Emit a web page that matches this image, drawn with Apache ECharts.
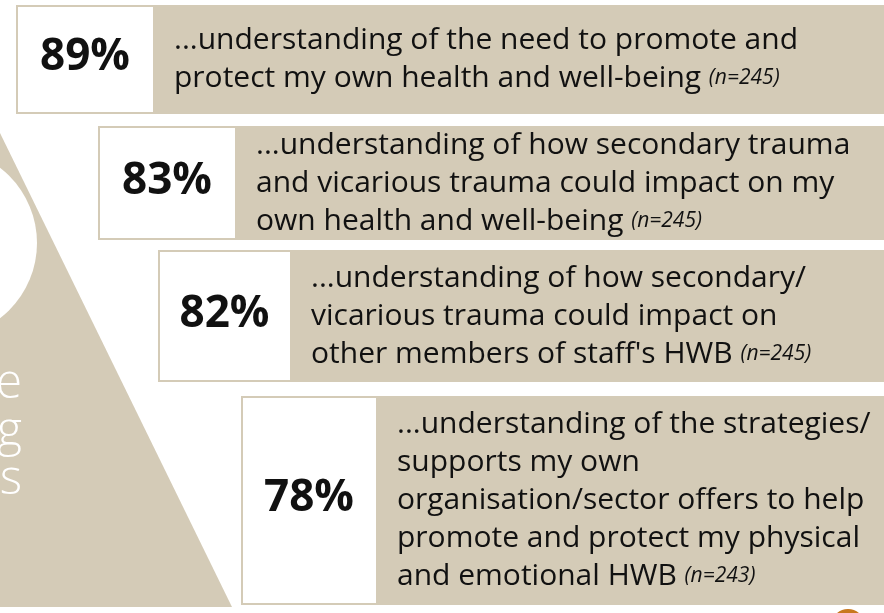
<!DOCTYPE html>
<html>
<head>
<meta charset="utf-8">
<style>
  html, body { margin: 0; padding: 0; background: #fff; }
  #main { width: 884px; height: 613px; }
</style>
<script src="https://cdn.jsdelivr.net/npm/echarts@6/dist/echarts.min.js"></script>
</head>
<body>
<div id="main"></div>
<script>
const percents = [89, 83, 82, 78];
const sampleSizes = [245, 245, 245, 243];
const statements = [
  ["...understanding of the need to promote and", "protect my own health and well-being"],
  ["...understanding of how secondary trauma", "and vicarious trauma could impact on my", "own health and well-being"],
  ["...understanding of how secondary/", "vicarious trauma could impact on", "other members of staff's HWB"],
  ["...understanding of the strategies/", "supports my own", "organisation/sector offers to help", "promote and protect my physical", "and emotional HWB"]
];
const sideWords = ["Knowledge", "Understanding", "Skills"];

// layout of each row, in pixel units of the hidden axes
const rowTop = [5, 126, 250, 396];
const rowBottom = [114, 240, 382, 605];
const rowLeft = [16, 98, 158, 241];
const rowSplit = [154, 236, 291, 377];

const W = 884, H = 613;
const BEIGE = "#d4cbb7";
const FONT = '"Open Sans", "Noto Sans", sans-serif';

function renderRow(params, api) {
  const i = api.value(0);
  const tl = api.coord([rowLeft[i], rowTop[i]]);
  const br = api.coord([W, rowBottom[i]]);
  const sp = api.coord([rowSplit[i], rowBottom[i]]);
  const h = br[1] - tl[1];
  const cy = tl[1] + h / 2;
  const lines = statements[i].slice();
  lines[lines.length - 1] += " {n|(n=" + sampleSizes[i] + ")}";
  return {
    type: "group",
    children: [
      {
        type: "rect",
        shape: { x: tl[0], y: tl[1], width: br[0] - tl[0], height: h },
        style: { fill: BEIGE },
      },
      {
        type: "rect",
        shape: { x: tl[0] + 2, y: tl[1] + 2, width: sp[0] - tl[0] - 3, height: h - 4 },
        style: { fill: "#fff" },
      },
      {
        type: "text",
        style: {
          text: api.value(1) + "%",
          x: (tl[0] + sp[0]) / 2,
          y: cy - 2,
          align: "center",
          verticalAlign: "middle",
          fontFamily: FONT,
          fontWeight: "bold",
          fontSize: 44,
          fill: "#111",
        },
      },
      {
        type: "text",
        style: {
          text: lines.join("\n"),
          x: sp[0] + 20,
          y: cy,
          align: "left",
          verticalAlign: "middle",
          fontFamily: FONT,
          fontSize: 30,
          lineHeight: 38,
          fill: "#111",
          rich: {
            n: { fontFamily: FONT, fontStyle: "italic", fontSize: 21, lineHeight: 38, fill: "#111" },
          },
        },
      },
    ],
  };
}

const chart = echarts.init(document.getElementById("main"));
chart.setOption({
  animation: false,
  grid: { left: 0, right: 0, top: 0, bottom: 0 },
  xAxis: { type: "value", min: 0, max: W, show: false },
  yAxis: { type: "value", min: 0, max: H, inverse: true, show: false },
  graphic: [
    {
      type: "polygon",
      z: -10,
      shape: { points: [[0, 133], [232, 607], [0, 607]] },
      style: { fill: BEIGE },
    },
    {
      type: "circle",
      z: -9,
      shape: { cx: -58, cy: 243, r: 95 },
      style: { fill: "#fff" },
    },
    {
      type: "text",
      z: -8,
      style: {
        text: sideWords.join("\n"),
        x: 22,
        y: 432,
        align: "right",
        verticalAlign: "middle",
        fontFamily: FONT,
        fontWeight: 300,
        fontSize: 48,
        lineHeight: 48,
        fill: "#fff",
      },
    },
    {
      type: "circle",
      shape: { cx: 848, cy: 626, r: 15 },
      style: { fill: "none", stroke: "#c8781e", lineWidth: 4 },
    },
  ],
  series: [
    {
      type: "custom",
      renderItem: renderRow,
      data: percents.map((p, i) => [i, p]),
      clip: false,
    },
  ],
});
</script>
</body>
</html>
